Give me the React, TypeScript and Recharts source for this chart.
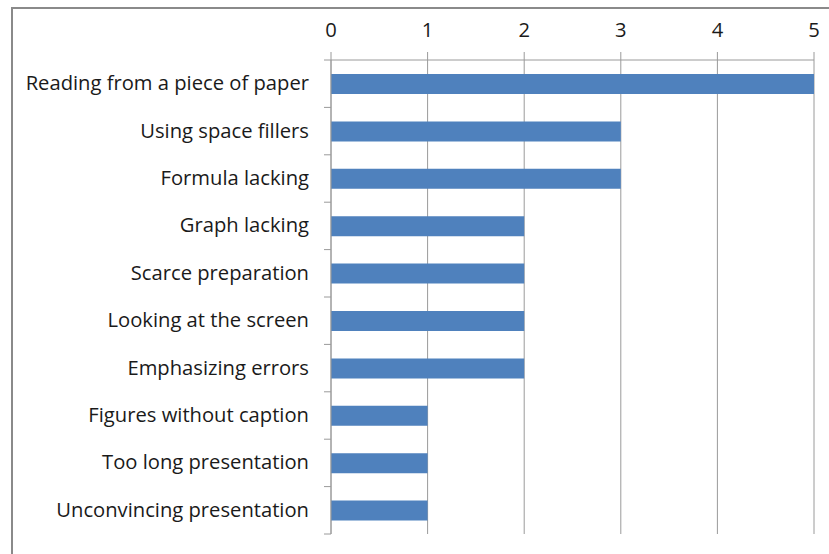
import React from "react";
import { BarChart, Bar, XAxis, YAxis, CartesianGrid } from "recharts";

const categories = [
  "Reading from a piece of paper",
  "Using space fillers",
  "Formula lacking",
  "Graph lacking",
  "Scarce preparation",
  "Looking at the screen",
  "Emphasizing errors",
  "Figures without caption",
  "Too long presentation",
  "Unconvincing presentation",
];
const values = [5, 3, 3, 2, 2, 2, 2, 1, 1, 1];
const xTicks = [0, 1, 2, 3, 4, 5];

const data = categories.map((name, i) => ({ name, value: values[i] }));

const W = 829;
const H = 554;
const TOP = 60;
const BOTTOM = 20;
const BAND = (H - TOP - BOTTOM) / categories.length;
const FONT = "'Open Sans', Lato, sans-serif";
const FS = 20.2;
const GRAY = "#9a9a9a";

const YTick = (props: any) => {
  const { x, y, payload, index } = props;
  const last = index === categories.length - 1;
  return (
    <g>
      <text
        x={x - 22}
        y={y - 1.5}
        textAnchor="end"
        dominantBaseline="central"
        fontFamily={FONT}
        fontSize={FS}
        fill="#1a1a1a"
      >
        {payload.value}
      </text>
      <line x1={x - 7} x2={x} y1={y - BAND / 2} y2={y - BAND / 2} stroke={GRAY} />
      {last && (
        <line x1={x - 7} x2={x} y1={y + BAND / 2} y2={y + BAND / 2} stroke={GRAY} />
      )}
    </g>
  );
};

export default function App() {
  return (
    <div style={{ position: "absolute", left: 0, top: 0, width: W, height: H, background: "#fff" }}>
      <div
        style={{
          position: "absolute",
          left: 11,
          top: 7,
          width: W,
          height: H,
          borderLeft: "2px solid #8a8a8a",
          borderTop: "2px solid #8a8a8a",
        }}
      />
      <div style={{ position: "absolute", left: 0, top: 0 }}>
        <BarChart
          width={W}
          height={H}
          data={data}
          layout="vertical"
          margin={{ top: 0, right: 15, bottom: BOTTOM, left: 0 }}
          barSize={20}
        >
          <CartesianGrid horizontal={false} vertical={true} stroke={GRAY} strokeDasharray="" />
          <XAxis
            type="number"
            orientation="top"
            domain={[0, 5]}
            ticks={xTicks}
            height={TOP}
            axisLine={{ stroke: GRAY }}
            tickLine={{ stroke: GRAY }}
            tickSize={8}
            tickMargin={15}
            tick={{ fontFamily: FONT, fontSize: FS, fill: "#1a1a1a" }}
          />
          <YAxis
            type="category"
            dataKey="name"
            width={331}
            axisLine={{ stroke: GRAY }}
            tickLine={false}
            tickSize={0}
            tickMargin={0}
            tick={<YTick />}
            interval={0}
          />
          <Bar dataKey="value" fill="#4F81BD" isAnimationActive={false} />
        </BarChart>
      </div>
    </div>
  );
}
